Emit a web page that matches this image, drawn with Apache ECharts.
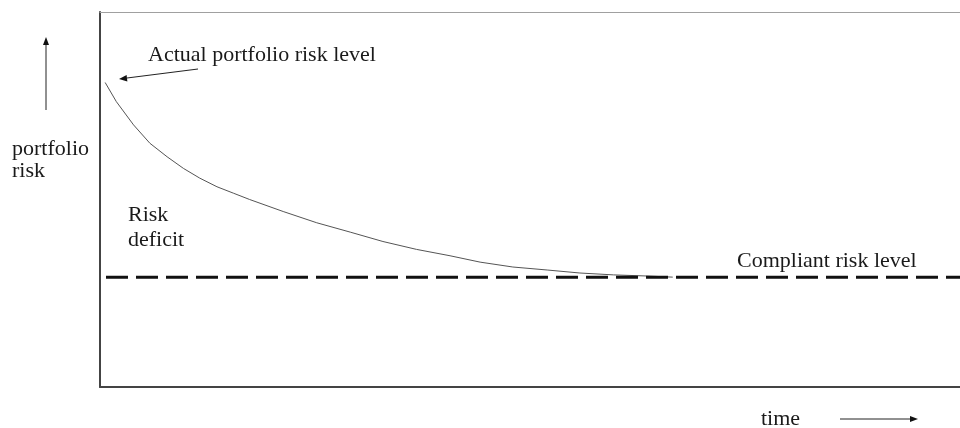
<!DOCTYPE html>
<html>
<head>
<meta charset="utf-8">
<script src="https://cdn.jsdelivr.net/npm/echarts@6/dist/echarts.min.js"></script>
<style>html,body{margin:0;padding:0;background:#fff}#chart{width:960px;height:428px}</style>
</head>
<body>
<div id="chart"></div>
<script>
// Data (time units 0-100, risk units 0-100)
const timeX = [0.6, 1.9, 3.9, 5.8, 7.8, 9.7, 11.6, 13.6, 15.5, 17.4, 21.3, 25.2, 29.1, 32.9, 36.8, 40.7, 44.2, 48.0, 52.0, 55.8, 59.7, 63.6, 66.6];
const riskY = [81.2, 76.1, 69.9, 65.0, 61.4, 58.3, 55.7, 53.4, 51.7, 50.0, 46.8, 43.8, 41.3, 38.8, 36.7, 35.0, 33.3, 32.0, 31.2, 30.4, 29.9, 29.6, 29.3];
const compliantLevel = 29.25;
const compliantX = [0, 100];
const labels = {
  actual: 'Actual portfolio risk level',
  yLabel: ['portfolio', 'risk'],
  deficit: ['Risk', 'deficit'],
  compliant: 'Compliant risk level',
  xLabel: 'time'
};

const curve = timeX.map((x, i) => [x, riskY[i]]);
const compliantLine = compliantX.map(x => [x, compliantLevel]);

const font = '22px "Liberation Serif", "Times New Roman", serif';
const txtColor = '#1a1a1a';
function txt(text, x, y) {
  return { type: 'text', style: { text: text, x: x, y: y, font: font, fill: txtColor, verticalAlign: 'middle', align: 'left' } };
}
function line(x1, y1, x2, y2) {
  return { type: 'line', shape: { x1: x1, y1: y1, x2: x2, y2: y2 }, style: { stroke: '#222', lineWidth: 1 } };
}
function head(points) {
  return { type: 'polygon', shape: { points: points }, style: { fill: '#111' } };
}

const chart = echarts.init(document.getElementById('chart'), null, { renderer: 'canvas' });
chart.setOption({
  animation: false,
  backgroundColor: '#fff',
  grid: { left: 100, right: 0, top: 12, bottom: 41, show: false },
  xAxis: [
    { type: 'value', min: 0, max: 100, axisLine: { show: true, lineStyle: { color: '#444', width: 2 } },
      axisTick: { show: false }, axisLabel: { show: false }, splitLine: { show: false } },
    { type: 'value', position: 'top', min: 0, max: 100, axisLine: { show: true, lineStyle: { color: '#a0a0a0', width: 1 } },
      axisTick: { show: false }, axisLabel: { show: false }, splitLine: { show: false } }
  ],
  yAxis: { type: 'value', min: 0, max: 100, axisLine: { show: true, lineStyle: { color: '#444', width: 2 } },
    axisTick: { show: false }, axisLabel: { show: false }, splitLine: { show: false } },
  series: [
    { type: 'line', data: curve, smooth: false, showSymbol: false,
      lineStyle: { color: '#555', width: 1 } },
    { type: 'line', data: compliantLine, showSymbol: false,
      lineStyle: { color: '#111', width: 3, type: [22, 8], dashOffset: 24 } }
  ],
  graphic: [
    txt(labels.actual, 148, 55),
    txt(labels.yLabel[0], 12, 149),
    txt(labels.yLabel[1], 12, 171),
    txt(labels.deficit[0], 128, 215),
    txt(labels.deficit[1], 128, 240),
    txt(labels.compliant, 737, 261),
    txt(labels.xLabel, 761, 419),
    // up arrow
    line(46, 110, 46, 44),
    head([[46, 37], [43, 45], [49, 45]]),
    // right arrow
    line(840, 419, 911, 419),
    head([[918, 419], [910, 416], [910, 422]]),
    // annotation arrow
    line(198, 69, 127, 78),
    head([[119, 79], [127.4, 81.5], [126.6, 75]])
  ]
});
</script>
</body>
</html>
